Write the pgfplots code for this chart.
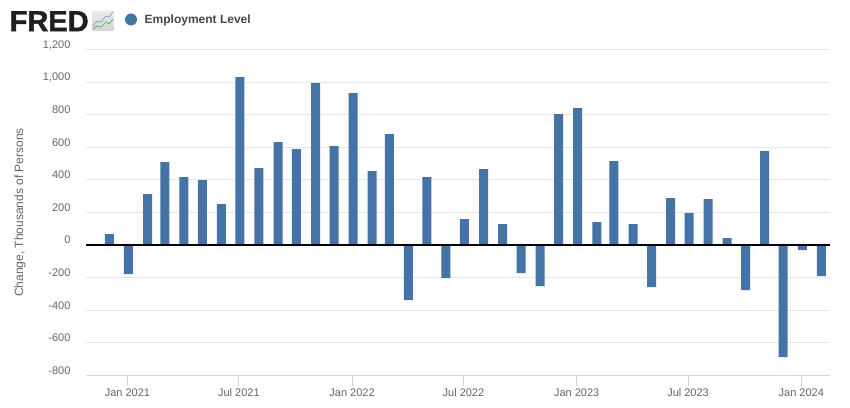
\documentclass[border=0pt]{standalone}
\usepackage{fontspec}
\setmainfont{Liberation Sans}
\newfontfamily\logofont[FakeBold=1.5]{Liberation Sans Bold}
\usepackage{pgfplots}
\pgfplotsset{compat=1.18}
\definecolor{bar}{HTML}{4572A7}
\definecolor{lab}{HTML}{666666}
\definecolor{gridc}{HTML}{E6E6E6}
\definecolor{axisc}{HTML}{CCD6EB}
\begin{document}
\begin{tikzpicture}[x=1pt,y=1pt]
\useasboundingbox (0,0) rectangle (850,407);
\fill[white] (0,0) rectangle (850,407);
\begin{axis}[
  at={(86pt,31.5pt)}, anchor=south west,
  scale only axis, width=744pt, height=326pt,
  xmin=-67.4, xmax=1141.7, ymin=-800, ymax=1200,
  axis lines*=left,
  axis line style={-},
  y axis line style={draw=none},
  x axis line style={color=axisc, line width=1pt},
  ymajorgrids, grid style={color=gridc, line width=1pt},
  xtick={0,181,365,546,730,911,1095},
  xticklabels={Jan 2021,Jul 2021,Jan 2022,Jul 2022,Jan 2023,Jul 2023,Jan 2024},
  ytick={-600,-400,-200,0,200,400,600,800,1000,1200},
  yticklabels={-600,-400,-200,0,200,400,600,800,{1,000},{1,200}},
  extra y ticks={-800},
  extra y tick labels={-800},
  extra y tick style={grid=none},
  tick align=outside, major tick length=10pt,
  xtick style={color=axisc, line width=1pt},
  ytick style={draw=none},
  ticklabel style={font=\fontsize{11}{13}\selectfont, text=lab},
  xticklabel style={yshift=1pt, text height=8pt, text depth=0pt},
  yticklabel style={yshift=5.3pt, xshift=-2pt, text height=8pt, text depth=0pt},
  every axis y label/.style={at={(axis description cs:-0.0888,0.5)}, rotate=90, anchor=center},
  ylabel={Change, Thousands of Persons},
  ylabel style={font=\fontsize{12}{14}\selectfont, text=lab},
  clip=false,
]
\addplot[ybar, bar width=9pt, bar shift=1pt, fill=bar, draw=none] coordinates {
(-31,67)(0,-178)(31,313)(59,509)(90,417)(120,399)(151,251)(181,1030)(212,472)(243,632)(273,589)(304,994)(334,607)
(365,932)(396,454)(424,681)(455,-337)(485,417)(516,-202)(546,160)(577,466)(608,129)(638,-172)(669,-252)(699,804)
(730,840)(761,141)(789,515)(820,129)(850,-258)(881,288)(911,196)(942,282)(973,43)(1003,-276)(1034,577)(1064,-687)
(1095,-31)(1126,-190)};
\addplot[black, line width=2pt] coordinates {(-67.4,0)(1141.7,0)};
\end{axis}
% logo
\node[anchor=base west, inner sep=0pt, text=black!88] at (9.5,375.8) {\fontsize{29}{29}\logofont FRED};
\shade[top color=gray!15, bottom color=gray!35, rounded corners=1pt] (92,376) rectangle (114,396);
\draw[color=bar!70, line width=0.7pt] (93,381) -- (97,386) -- (101,385) -- (106,391) -- (109,390) -- (113,395);
\draw[color=green!45!gray, line width=0.7pt] (93,378) -- (97,381) -- (101,380) -- (106,385) -- (109,383) -- (113,388);
% legend
\fill[bar] (131,387.5) circle (6);
\node[anchor=base west, inner sep=0pt, text=black!72] at (144.5,383.3) {\fontsize{12}{14}\selectfont\bfseries Employment Level};
\end{tikzpicture}
\end{document}
